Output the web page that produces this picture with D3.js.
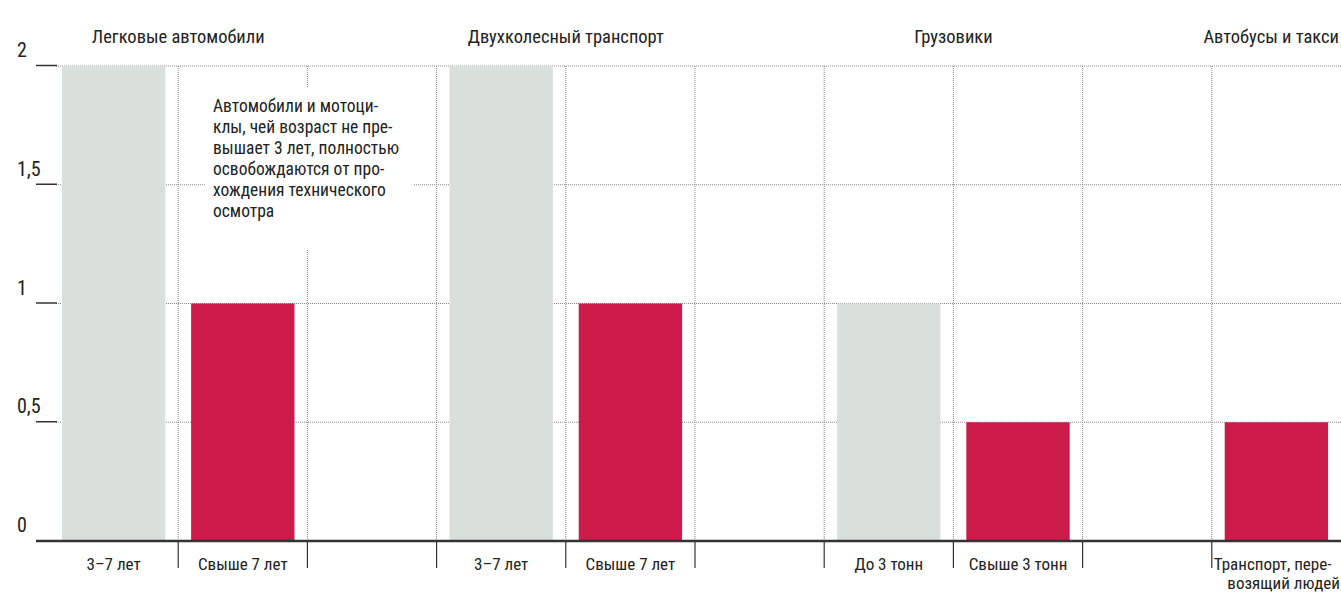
<!DOCTYPE html>
<html lang="ru">
<head>
<meta charset="UTF-8">
<title>Техосмотр</title>
<script src="https://d3js.org/d3.v7.min.js"></script>
<style>
  body { margin: 0; background: #fff; }
  svg text { font-family: "Roboto Condensed", "Liberation Sans Narrow", "DejaVu Sans Condensed", Roboto, sans-serif; font-stretch: condensed; fill: #222; }
</style>
</head>
<body>
<script>

var w = 1341;
var h = 595;

// data
var groups = ["Легковые автомобили", "Двухколесный транспорт", "Грузовики", "Автобусы и такси"];
var groupFirstSlot = [0, 3, 6, 9];
var slotLabels = ["3–7 лет", "Свыше 7 лет", "", "3–7 лет", "Свыше 7 лет", "", "До 3 тонн", "Свыше 3 тонн", "", "Транспорт, пере-|возящий людей"];
var values = [2, 1, null, 2, 1, null, 1, 0.5, null, 0.5];
var kinds = ["new", "old", null, "new", "old", null, "new", "old", null, "old"];
var yTicks = [0, 0.5, 1, 1.5, 2];
var yTickLabels = ["0", "0,5", "1", "1,5", "2"];
var noteLines = ["Автомобили и мотоци-", "клы, чей возраст не пре-", "вышает 3 лет, полностью", "освобождаются от про-", "хождения технического", "осмотра"];

var colors = {"new": "#d9e0dc", "old": "#cc1a4a"};

var svg = d3.select("body").append("svg")
    .attr("width", w)
    .attr("height", h);

var x = d3.scaleBand()
    .domain(d3.range(slotLabels.length))
    .range([49, 1341])
    .padding(0);

var y = d3.scaleLinear()
    .domain([0, 2])
    .range([541, 66]);

var step = x.step();

// horizontal dotted grid
svg.selectAll(".hgrid")
    .data(yTicks.filter(function(d) { return d > 0; }))
    .enter().append("line")
    .attr("x1", 56).attr("x2", w)
    .attr("y1", function(d) { return y(d); })
    .attr("y2", function(d) { return y(d); })
    .attr("stroke", "#888")
    .attr("stroke-width", 1)
    .attr("stroke-dasharray", "1,1");

// vertical dotted grid at slot borders
var borders = d3.range(1, slotLabels.length).map(function(i) { return x(i); });
svg.selectAll(".vgrid")
    .data(borders)
    .enter().append("line")
    .attr("x1", function(d) { return d; })
    .attr("x2", function(d) { return d; })
    .attr("y1", y(2)).attr("y2", y(0))
    .attr("stroke", "#888")
    .attr("stroke-width", 1)
    .attr("stroke-dasharray", "1,1");

// bars
svg.selectAll(".bar")
    .data(values.map(function(v, i) { return {v: v, i: i, k: kinds[i]}; }).filter(function(d) { return d.v != null; }))
    .enter().append("rect")
    .attr("x", function(d) { return x(d.i) + step * 0.1; })
    .attr("width", step * 0.8)
    .attr("y", function(d) { return y(d.v); })
    .attr("height", function(d) { return y(0) - y(d.v); })
    .attr("fill", function(d) { return colors[d.k]; });

// note box
var note = svg.append("g");
note.append("rect")
    .attr("x", 205).attr("y", 88)
    .attr("width", 208).attr("height", 162)
    .attr("fill", "#fff");
note.selectAll("text")
    .data(noteLines)
    .enter().append("text")
    .attr("x", 213)
    .attr("y", function(d, i) { return 112 + i * 21; })
    .attr("font-size", 17.5)
    .text(function(d) { return d; });

// y axis marks and labels
svg.selectAll(".ytick")
    .data(yTicks.filter(function(d) { return d > 0; }))
    .enter().append("line")
    .attr("x1", 36).attr("x2", 57)
    .attr("y1", function(d) { return y(d) - 0.5; })
    .attr("y2", function(d) { return y(d) - 0.5; })
    .attr("stroke", "#333")
    .attr("stroke-width", 1.5);

svg.selectAll(".ylabel")
    .data(yTicks)
    .enter().append("text")
    .attr("x", 17)
    .attr("y", function(d) { return y(d) - 9; })
    .attr("font-size", 20)
    .text(function(d, i) { return yTickLabels[i]; });

// baseline
svg.append("line")
    .attr("x1", 36).attr("x2", w)
    .attr("y1", y(0)).attr("y2", y(0))
    .attr("stroke", "#333")
    .attr("stroke-width", 2.5);

// bottom ticks
svg.selectAll(".xtick")
    .data(borders)
    .enter().append("line")
    .attr("x1", function(d) { return d; })
    .attr("x2", function(d) { return d; })
    .attr("y1", y(0)).attr("y2", y(0) + 27)
    .attr("stroke", "#333")
    .attr("stroke-width", 1.2);

// bottom labels
slotLabels.forEach(function(lbl, i) {
    if (!lbl) return;
    var parts = lbl.split("|");
    if (parts.length == 1) {
        svg.append("text")
            .attr("x", x(i) + step / 2)
            .attr("y", 570)
            .attr("text-anchor", "middle")
            .attr("font-size", 17)
            .text(lbl);
    } else {
        svg.append("text")
            .attr("x", x(i) + 2)
            .attr("y", 570)
            .attr("font-size", 17)
            .text(parts[0]);
        svg.append("text")
            .attr("x", x(i) + step - 1)
            .attr("y", 589)
            .attr("text-anchor", "end")
            .attr("font-size", 17)
            .text(parts[1]);
    }
});

// group titles (last one sits against the right edge)
groups.forEach(function(g, j) {
    var s = groupFirstSlot[j];
    var last = s + 1 >= slotLabels.length;
    svg.append("text")
        .attr("x", last ? x(s) + step - 2 : x(s) + step)
        .attr("y", 43)
        .attr("text-anchor", last ? "end" : "middle")
        .attr("font-size", 18.5)
        .text(g);
});

</script>
</body>
</html>
